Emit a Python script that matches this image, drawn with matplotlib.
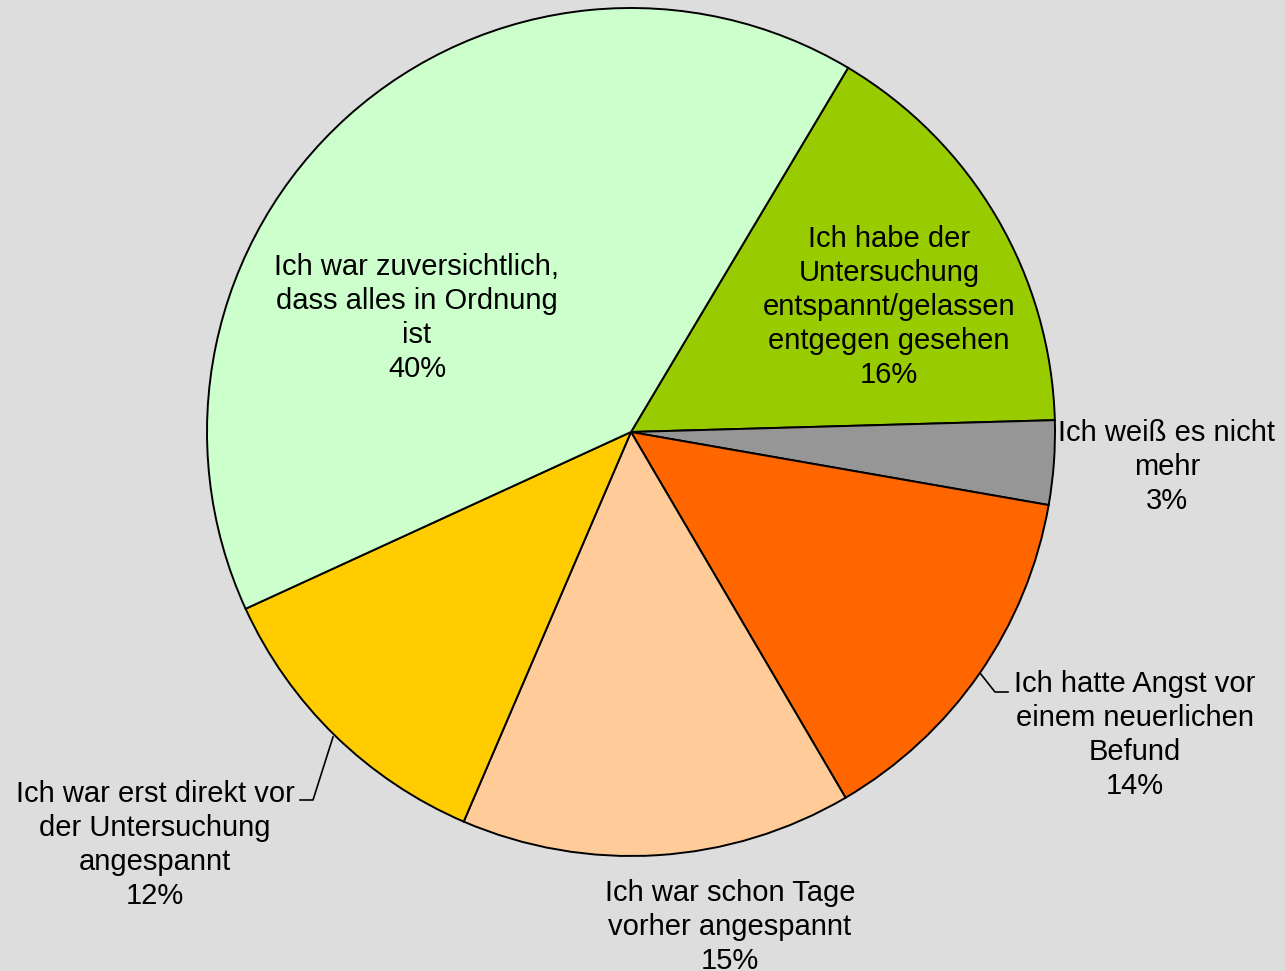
import numpy as np
import matplotlib.pyplot as plt

# values (clockwise from the upper right)
labels = ["Ich habe der\nUntersuchung\nentspannt/gelassen\nentgegen gesehen",
          "Ich weiß es nicht\nmehr",
          "Ich hatte Angst vor\neinem neuerlichen\nBefund",
          "Ich war schon Tage\nvorher angespannt",
          "Ich war erst direkt vor\nder Untersuchung\nangespannt",
          "Ich war zuversichtlich,\ndass alles in Ordnung\nist"]
values = [16.0, 3.2, 13.8, 14.9, 11.7, 40.4]
colors = ["#99CC00", "#969696", "#FF6600", "#FFCC99", "#FFCC00", "#CCFFCC"]

# label centres in pixel space (figure is drawn 1:1 in pixels)
label_xy = [(889, 664), (1167, 504), (1135, 236), (730, 44), (155, 126), (417, 653)]
# leader lines for the outside labels: (slice index, points)
leaders = {2: [(980, 298), (995, 279), (1008, 279)],
           4: [(333, 234), (313, 171), (300, 171)]}

plt.rcParams['font.family'] = ['Liberation Sans', 'DejaVu Sans']

W, H = 1285, 971
fig = plt.figure(figsize=(W / 100, H / 100), dpi=100, facecolor="#DDDDDD")
ax = fig.add_axes([0, 0, 1, 1])
ax.set_facecolor("#DDDDDD")

cx, cy, r = 631, 539, 424
ax.pie(values, colors=colors, startangle=59.2, counterclock=False,
       center=(cx, cy), radius=r,
       wedgeprops=dict(edgecolor="black", linewidth=1.4))
ax.set_xlim(0, W)
ax.set_ylim(0, H)
ax.set_aspect("equal")
ax.axis("off")

total = sum(values)
for lab, v, (x, y) in zip(labels, values, label_xy):
    ax.text(x, y, f"{lab}\n{round(v / total * 100):.0f}%", ha="center", va="center",
            fontsize=21, linespacing=1.28, color="black")

for i, pts in leaders.items():
    xs, ys = zip(*pts)
    ax.plot(xs, ys, color="black", linewidth=1.2)

fig.savefig("out.png", dpi=100, facecolor=fig.get_facecolor())
